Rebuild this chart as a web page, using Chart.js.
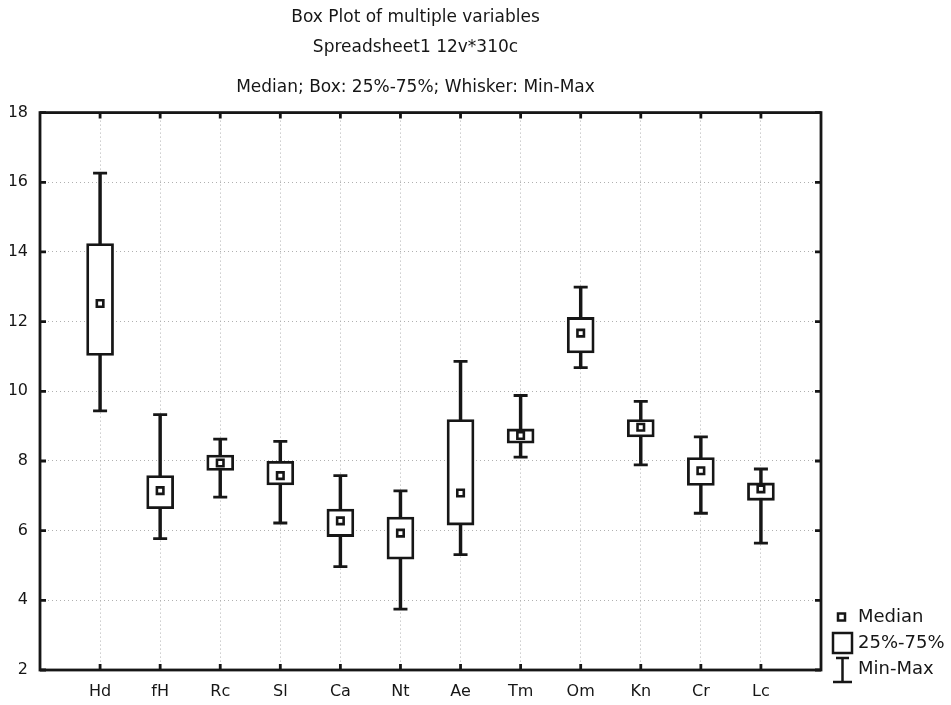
<!DOCTYPE html>
<html>
<head>
<meta charset="utf-8">
<script src="https://cdn.jsdelivr.net/npm/chart.js@4.4.1/dist/chart.umd.min.js"></script>
<style>
    html, body { margin: 0; padding: 0; background: #fff; }
    #wrap { width: 951px; height: 705px; }
</style>
</head>
<body>
<div id="wrap"><canvas id="boxChart" width="951" height="705"></canvas></div>
<script>
const categories = ['Hd', 'fH', 'Rc', 'Sl', 'Ca', 'Nt', 'Ae', 'Tm', 'Om', 'Kn', 'Cr', 'Lc'];
const minValues = [9.44, 5.77, 6.96, 6.22, 4.97, 3.75, 5.31, 8.11, 10.68, 7.89, 6.50, 5.64];
const q1Values = [11.03, 6.63, 7.73, 7.31, 5.83, 5.18, 6.16, 8.51, 11.10, 8.69, 7.30, 6.87];
const medianValues = [12.52, 7.15, 7.94, 7.58, 6.28, 5.93, 7.08, 8.73, 11.67, 8.97, 7.72, 7.20];
const q3Values = [14.24, 7.58, 8.17, 7.99, 6.62, 6.39, 9.19, 8.92, 12.12, 9.19, 8.10, 7.37];
const maxValues = [16.26, 9.33, 8.63, 8.56, 7.58, 7.14, 10.86, 9.88, 12.99, 9.71, 8.69, 7.77];
const yTicks = [2, 4, 6, 8, 10, 12, 14, 16, 18];

const titleLines = ['Box Plot of multiple variables', 'Spreadsheet1 12v*310c'];
const subtitleText = 'Median; Box: 25%-75%; Whisker: Min-Max';
const legendItems = ['Median', '25%-75%', 'Min-Max'];

const ink = '#161616';
const fontFamily = '"DejaVu Sans", "Liberation Sans", Arial, sans-serif';

// whiskers + caps + boxes + medians, all placed on x = 1..12
const whiskerData = categories.map((c, i) => ({ x: i + 1, y: [minValues[i], maxValues[i]] }));
const boxData = categories.map((c, i) => ({ x: i + 1, y: [q1Values[i], q3Values[i]] }));
const capData = categories.map((c, i) => ({ x: i + 1, y: minValues[i] }))
    .concat(categories.map((c, i) => ({ x: i + 1, y: maxValues[i] })));
const medianData = categories.map((c, i) => ({ x: i + 1, y: medianValues[i] }));

// frame, inner tick marks and the legend
const framePlugin = {
    id: 'frame',
    afterDraw(chart) {
        const ctx = chart.ctx;
        const area = chart.chartArea;
        const xs = chart.scales.x;
        const ys = chart.scales.y;
        const tick = 6;
        ctx.save();
        ctx.strokeStyle = ink;
        ctx.lineWidth = 2.8;
        ctx.strokeRect(area.left, area.top, area.right - area.left, area.bottom - area.top);
        ctx.beginPath();
        for (let i = 1; i <= categories.length; i++) {
            const px = xs.getPixelForValue(i);
            ctx.moveTo(px, area.bottom); ctx.lineTo(px, area.bottom - tick);
            ctx.moveTo(px, area.top); ctx.lineTo(px, area.top + tick);
        }
        yTicks.forEach(v => {
            const py = ys.getPixelForValue(v);
            ctx.moveTo(area.left, py); ctx.lineTo(area.left + tick, py);
            ctx.moveTo(area.right, py); ctx.lineTo(area.right - tick, py);
        });
        ctx.stroke();

        // legend
        const lx = area.right + 12;
        const rows = [617, 643, 669];
        ctx.lineWidth = 2.5;
        ctx.strokeRect(lx + 5, rows[0] - 3.5, 7, 7);
        ctx.strokeRect(lx, rows[1] - 10, 19, 20);
        ctx.beginPath();
        ctx.moveTo(lx + 9.5, rows[2] - 11); ctx.lineTo(lx + 9.5, rows[2] + 13);
        ctx.moveTo(lx + 3, rows[2] - 11); ctx.lineTo(lx + 16, rows[2] - 11);
        ctx.moveTo(lx, rows[2] + 13); ctx.lineTo(lx + 19, rows[2] + 13);
        ctx.stroke();
        ctx.fillStyle = ink;
        ctx.font = '18px ' + fontFamily;
        ctx.textBaseline = 'middle';
        ctx.textAlign = 'left';
        legendItems.forEach((t, i) => ctx.fillText(t, lx + 25, rows[i]));
        ctx.restore();
    }
};

new Chart(document.getElementById('boxChart'), {
    type: 'bar',
    data: {
        datasets: [
            {
                label: 'Min-Max',
                data: whiskerData,
                backgroundColor: ink,
                barThickness: 2.8,
                grouped: false,
                order: 3
            },
            {
                label: '25%-75%',
                data: boxData,
                backgroundColor: '#fff',
                borderColor: ink,
                borderWidth: 2.8,
                borderSkipped: false,
                barThickness: 27,
                grouped: false,
                order: 2
            },
            {
                type: 'scatter',
                label: 'caps',
                data: capData,
                pointStyle: 'line',
                pointRadius: 7,
                borderColor: ink,
                borderWidth: 2.8,
                order: 1
            },
            {
                type: 'scatter',
                label: 'Median',
                data: medianData,
                pointStyle: 'rect',
                pointRadius: 4.6,
                backgroundColor: '#fff',
                borderColor: ink,
                borderWidth: 2.6,
                order: 0
            }
        ]
    },
    options: {
        responsive: false,
        animation: false,
        layout: { padding: { left: 10, right: 130, top: 0, bottom: 0 } },
        plugins: {
            legend: { display: false },
            tooltip: { enabled: false },
            title: {
                display: true,
                text: titleLines,
                color: ink,
                font: { family: fontFamily, size: 17, weight: 'normal', lineHeight: 1.8 },
                padding: { top: 2, bottom: 0 }
            },
            subtitle: {
                display: true,
                text: subtitleText,
                color: ink,
                font: { family: fontFamily, size: 17, weight: 'normal', lineHeight: 1.2 },
                padding: { top: 14, bottom: 15 }
            }
        },
        scales: {
            x: {
                type: 'linear',
                min: 0,
                max: 13,
                offset: false,
                afterFit: s => { s.height = 35; },
                afterBuildTicks: s => { s.ticks = Array.from({ length: 14 }, (_, i) => ({ value: i })); },
                ticks: {
                    autoSkip: false,
                    maxRotation: 0,
                    padding: 12,
                    color: ink,
                    font: { family: fontFamily, size: 16 },
                    callback: v => categories[v - 1] || ''
                },
                grid: { color: '#b0b0b0', lineWidth: 1, drawTicks: false, offset: false },
                border: { display: false, dash: [1, 3] }
            },
            y: {
                min: 2,
                max: 18,
                afterFit: s => { s.width = 30; },
                afterBuildTicks: s => { s.ticks = yTicks.map(v => ({ value: v })); },
                ticks: {
                    padding: 12,
                    color: ink,
                    font: { family: fontFamily, size: 16 }
                },
                grid: { color: '#b0b0b0', lineWidth: 1, drawTicks: false },
                border: { display: false, dash: [1, 3] }
            }
        }
    },
    plugins: [framePlugin]
});
</script>
</body>
</html>
